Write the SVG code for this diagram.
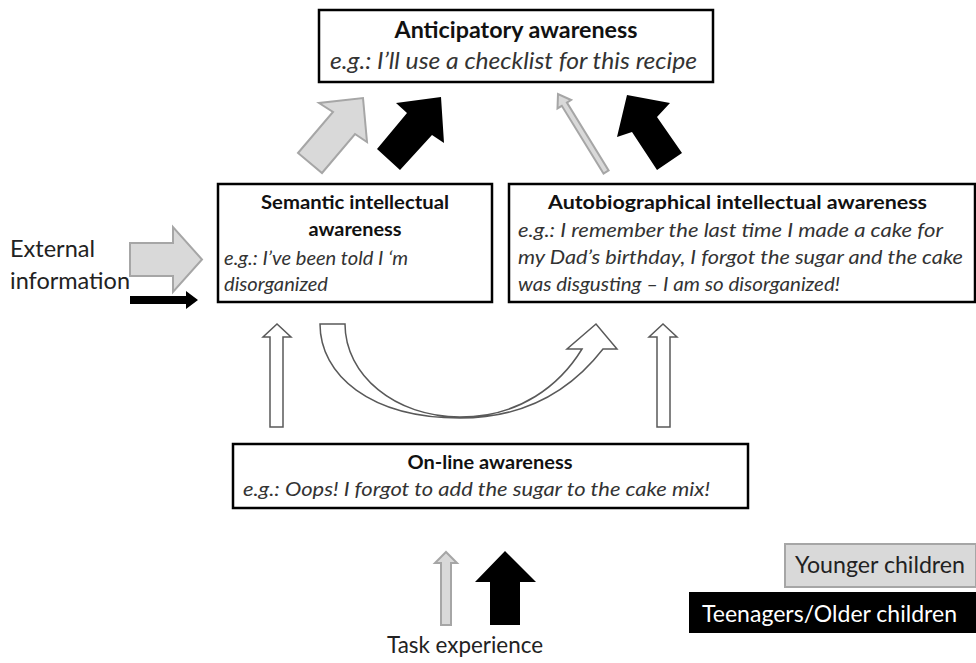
<svg xmlns="http://www.w3.org/2000/svg" width="976" height="663" viewBox="0 0 976 663">
<style>
text{font-family:Lato,"Open Sans","Liberation Sans",sans-serif;fill:#222}
.b{font-weight:bold;fill:#111}
.i{font-style:italic;fill:#333}
.box{fill:#fff;stroke:#000;stroke-width:2.5}
.gray{fill:#d9d9d9;stroke:#a6a6a6;stroke-width:2}
.blk{fill:#000;stroke:none}
.hol{fill:#fff;stroke:#595959;stroke-width:1.5}
</style>
<rect width="976" height="663" fill="#fff"/>
<g id="anticipatory">
<rect class="box" x="319" y="10" width="394" height="72"/>
<text class="b" x="516" y="38" font-size="22.5" text-anchor="middle" textLength="243" lengthAdjust="spacingAndGlyphs">Anticipatory awareness</text>
<text class="i" x="330" y="69" font-size="22.5" textLength="367" lengthAdjust="spacingAndGlyphs">e.g.: I’ll use a checklist for this recipe</text>
</g>
<g id="semantic">
<rect class="box" x="218" y="184" width="274" height="118"/>
<text class="b" x="355" y="209" font-size="19.5" text-anchor="middle" textLength="188" lengthAdjust="spacingAndGlyphs">Semantic intellectual</text>
<text class="b" x="355" y="236" font-size="19.5" text-anchor="middle" textLength="93" lengthAdjust="spacingAndGlyphs">awareness</text>
<text class="i" x="224" y="265" font-size="18.5" textLength="184" lengthAdjust="spacingAndGlyphs">e.g.: I’ve been told I ‘m</text>
<text class="i" x="224" y="291" font-size="18.5" textLength="104" lengthAdjust="spacingAndGlyphs">disorganized</text>
</g>
<g id="autobiographical">
<rect class="box" x="509" y="184" width="466" height="118"/>
<text class="b" x="548" y="209" font-size="19.5" textLength="379" lengthAdjust="spacingAndGlyphs">Autobiographical intellectual awareness</text>
<text class="i" x="518" y="237" font-size="20" textLength="425" lengthAdjust="spacingAndGlyphs">e.g.: I remember the last time I made a cake for</text>
<text class="i" x="518" y="264" font-size="20" textLength="445" lengthAdjust="spacingAndGlyphs">my Dad’s birthday, I forgot the sugar and the cake</text>
<text class="i" x="518" y="291" font-size="20" textLength="322" lengthAdjust="spacingAndGlyphs">was disgusting – I am so disorganized!</text>
</g>
<g id="online">
<rect class="box" x="233" y="444" width="515" height="64"/>
<text class="b" x="490" y="469" font-size="19.5" text-anchor="middle" textLength="165" lengthAdjust="spacingAndGlyphs">On-line awareness</text>
<text class="i" x="243" y="496" font-size="20" textLength="467" lengthAdjust="spacingAndGlyphs">e.g.: Oops! I forgot to add the sugar to the cake mix!</text>
</g>
<g id="external">
<text x="10" y="257" font-size="23" textLength="85" lengthAdjust="spacingAndGlyphs">External</text>
<text x="10" y="289" font-size="23" textLength="120" lengthAdjust="spacingAndGlyphs">information</text>
</g>
<g id="task-experience">
<text x="387" y="653" font-size="22.5" textLength="156" lengthAdjust="spacingAndGlyphs">Task experience</text>
</g>
<g id="legend-younger">
<rect x="785" y="544" width="191" height="43" fill="#d9d9d9" stroke="#a6a6a6" stroke-width="2"/>
<text x="795" y="573" font-size="22.5" textLength="170" lengthAdjust="spacingAndGlyphs">Younger children</text>
</g>
<g id="legend-older">
<rect x="689" y="592" width="287" height="41" fill="#000"/>
<text x="702" y="622" font-size="22.5" fill="#fff" style="fill:#fff" textLength="255" lengthAdjust="spacingAndGlyphs">Teenagers/Older children</text>
</g>
<g id="connectors">
<polygon class="gray" points="130,243 173,243 173,227 202,259.5 173,292 173,276 130,276"/>
<polygon class="blk" points="130,296 186,296 186,291 198,300 186,309 186,304 130,304"/>
<polygon class="gray" points="298,153 333,112 319,103 363,98 367,142 355,134 322,173"/>
<polygon class="blk" points="377,149 407,113 396,103 441,97 444,143 432,135 400,170"/>
<polygon class="gray" stroke-width="1.5" points="603.5,173.6 561.8,105.8 557.5,108.4 558,94 571.1,100 566.9,102.6 608.6,170.4"/>
<polygon class="blk" points="657,170 632,132 617,137 627,95 670,103 657,117 682,153"/>
<polygon class="hol" points="270,427 270,337 263,337 277,324 291,337 283,337 283,427"/>
<polygon class="hol" points="657,427 657,337 649,337 663,324 677,337 670,337 670,427"/>
<path class="hol" d="M320,324 C320,375 370,418 460,418 C530,418 575,385 603,349 L617,349 L596,324 L567,349 L582,349 C560,385 520,417 460,417 C395,417 345,375 345,324 Z"/>
<polygon class="gray" points="441,625 441,563 435,563 446,552 457,563 451,563 451,625"/>
<polygon class="blk" points="490,625 490,582 475,582 505,551 536,582 520,582 520,625"/>
</g>
</svg>
